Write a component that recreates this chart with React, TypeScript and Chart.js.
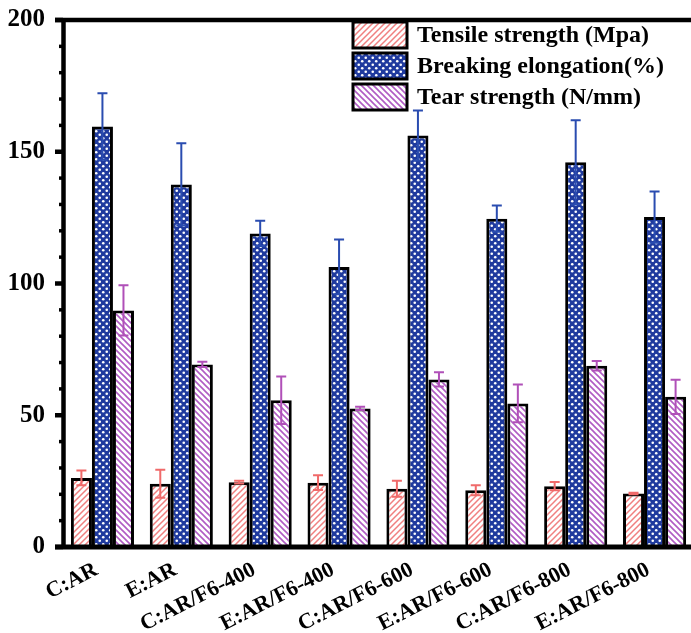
import { useEffect, useRef } from "react";
import { Chart, registerables } from "chart.js";
Chart.register(...registerables);

const categories = ["C:AR", "E:AR", "C:AR/F6-400", "E:AR/F6-400", "C:AR/F6-600", "E:AR/F6-600", "C:AR/F6-800", "E:AR/F6-800"];
const tensile = [26.2, 24, 24.6, 24.4, 22.1, 21.5, 23.1, 20.3];
const tensileErr = [2.8, 5.3, 0.5, 2.8, 3, 1.9, 1.6, 0.3];
const elongation = [159.6, 137.6, 119, 106.3, 156.2, 124.6, 146, 125.2];
const elongationErr = [12.6, 15.6, 4.8, 10.4, 9.5, 5, 16, 9.7];
const tear = [89.8, 69.3, 55.7, 52.6, 63.6, 54.5, 68.8, 57];
const tearErr = [9.5, 1, 9, 0.6, 2.7, 7.2, 1.8, 6.5];
const seriesNames = ["Tensile strength (Mpa)", "Breaking elongation(%)", "Tear strength (N/mm)"];
const yMin = 0;
const yMax = 200;
const yStep = 50;
const yMinorStep = 10;

const FONT = "'Liberation Serif', 'Times New Roman', serif";

function makePattern(kind: string): CanvasPattern | string {
  const c = document.createElement("canvas");
  const s = kind === "dots" ? 7 : 6;
  c.width = s;
  c.height = s;
  const g = c.getContext("2d");
  if (!g) return "#fff";
  if (kind === "slash") {
    g.fillStyle = "#ffffff";
    g.fillRect(0, 0, s, s);
    g.strokeStyle = "#f08080";
    g.lineWidth = 1.5;
    g.beginPath();
    g.moveTo(-1, s + 1); g.lineTo(s + 1, -1);
    g.moveTo(-1, 1); g.lineTo(1, -1);
    g.moveTo(s - 1, s + 1); g.lineTo(s + 1, s - 1);
    g.stroke();
  } else if (kind === "back") {
    g.fillStyle = "#ffffff";
    g.fillRect(0, 0, s, s);
    g.strokeStyle = "#b05cc4";
    g.lineWidth = 1.6;
    g.beginPath();
    g.moveTo(-1, -1); g.lineTo(s + 1, s + 1);
    g.moveTo(s - 1, -1); g.lineTo(s + 1, 1);
    g.moveTo(-1, s - 1); g.lineTo(1, s + 1);
    g.stroke();
  } else {
    g.fillStyle = "#1f3a9e";
    g.fillRect(0, 0, s, s);
    g.fillStyle = "#ffffff";
    const pts = [[1.75, 1.75], [5.25, 5.25]];
    for (const [x, y] of pts) {
      g.beginPath();
      g.arc(x, y, 1.3, 0, Math.PI * 2);
      g.fill();
    }
  }
  return g.createPattern(c, "repeat") || "#fff";
}

export default function App() {
  const ref = useRef<HTMLCanvasElement | null>(null);
  useEffect(() => {
    const canvas = ref.current;
    if (!canvas) return;
    const pats = [makePattern("slash"), makePattern("dots"), makePattern("back")];
    const errs = [tensileErr, elongationErr, tearErr];
    const errColors = ["#f06a6a", "#2a4cb0", "#b050b8"];

    const errorBars = {
      id: "errorBars",
      afterDatasetsDraw(chart: any) {
        const ctx = chart.ctx;
        const ys = chart.scales.y;
        chart.data.datasets.forEach((ds: any, i: number) => {
          const meta = chart.getDatasetMeta(i);
          meta.data.forEach((bar: any, j: number) => {
            const v = ds.data[j];
            const e = errs[i][j];
            const yt = ys.getPixelForValue(v + e);
            const yb = ys.getPixelForValue(v - e);
            const x = bar.x;
            ctx.save();
            ctx.strokeStyle = errColors[i];
            ctx.lineWidth = 2;
            ctx.beginPath();
            ctx.moveTo(x, yt); ctx.lineTo(x, yb);
            ctx.moveTo(x - 5, yt); ctx.lineTo(x + 5, yt);
            ctx.moveTo(x - 5, yb); ctx.lineTo(x + 5, yb);
            ctx.stroke();
            ctx.restore();
          });
        });
      },
    };

    const axesPlugin = {
      id: "axesLines",
      afterDraw(chart: any) {
        const ctx = chart.ctx;
        const ys = chart.scales.y;
        const a = chart.chartArea;
        const W = chart.width;
        ctx.save();
        ctx.strokeStyle = "#000";
        ctx.lineCap = "butt";
        const yTop = ys.getPixelForValue(yMax);
        const yBot = ys.getPixelForValue(yMin);
        ctx.lineWidth = 3.5;
        for (let v = yMin + yMinorStep; v < yMax; v += yMinorStep) {
          if (v % yStep === 0) continue;
          const y = ys.getPixelForValue(v);
          ctx.beginPath();
          ctx.moveTo(a.left - 4, y); ctx.lineTo(a.left, y);
          ctx.stroke();
        }
        ctx.lineWidth = 4.5;
        for (let v = yMin; v <= yMax; v += yStep) {
          const y = ys.getPixelForValue(v);
          ctx.beginPath();
          ctx.moveTo(a.left - 8, y); ctx.lineTo(a.left, y);
          ctx.stroke();
        }
        ctx.beginPath();
        ctx.moveTo(a.left - 8, yTop); ctx.lineTo(W, yTop);
        ctx.stroke();
        ctx.lineWidth = 5;
        ctx.beginPath();
        ctx.moveTo(a.left - 8, yBot); ctx.lineTo(W, yBot);
        ctx.stroke();
        ctx.lineWidth = 4.5;
        ctx.beginPath();
        ctx.moveTo(a.left + 0.5, yTop - 2); ctx.lineTo(a.left + 0.5, yBot + 2);
        ctx.stroke();

        // legend
        const bx = 353, bw = 54, bh = 26;
        const rows = [22, 53, 84];
        ctx.font = `bold 24px ${FONT}`;
        ctx.textBaseline = "middle";
        ctx.textAlign = "left";
        rows.forEach((ry, i) => {
          ctx.fillStyle = pats[i] as any;
          ctx.fillRect(bx, ry, bw, bh);
          ctx.lineWidth = 3;
          ctx.strokeStyle = "#000";
          ctx.strokeRect(bx, ry, bw, bh);
          ctx.fillStyle = "#000";
          ctx.fillText(seriesNames[i], 417, ry + bh / 2 + 1);
        });
        ctx.restore();
      },
    };

    const chart = new Chart(canvas, {
      type: "bar",
      data: {
        labels: categories,
        datasets: [
          { label: seriesNames[0], data: tensile, backgroundColor: pats[0] as any, borderColor: "#000", borderWidth: 3 },
          { label: seriesNames[1], data: elongation, backgroundColor: pats[1] as any, borderColor: "#000", borderWidth: 3 },
          { label: seriesNames[2], data: tear, backgroundColor: pats[2] as any, borderColor: "#000", borderWidth: 3 },
        ],
      },
      options: {
        animation: false,
        responsive: false,
        layout: { padding: { top: 20, left: 0, right: 0, bottom: 0 } },
        datasets: { bar: { categoryPercentage: 0.8, barPercentage: 1.0 } },
        plugins: { legend: { display: false }, tooltip: { enabled: false } },
        scales: {
          x: {
            grid: { display: false, drawTicks: false },
            border: { display: false },
            ticks: {
              autoSkip: false,
              maxRotation: 27,
              minRotation: 27,
              padding: 10,
              labelOffset: -6,
              color: "#000",
              font: { family: FONT, size: 22, weight: "bold" },
            },
            afterFit(scale: any) {
              scale.height = 86;
              scale.paddingLeft = 0;
              scale.paddingRight = 0;
            },
          },
          y: {
            min: yMin,
            max: yMax,
            grid: { display: false, drawTicks: false },
            border: { display: false },
            ticks: {
              stepSize: yStep,
              padding: 18,
              color: "#000",
              font: { family: FONT, size: 25, weight: "bold" },
            },
            afterFit(scale: any) {
              scale.width = 63;
              scale.paddingTop = 0;
              scale.paddingBottom = 0;
            },
          },
        },
      },
      plugins: [errorBars, axesPlugin],
    });
    return () => chart.destroy();
  }, []);
  return (
    <div style={{ position: "absolute", left: 0, top: 0, width: 691, height: 633, overflow: "hidden", background: "#fff" }}>
      <canvas ref={ref} width={694} height={633} style={{ display: "block" }} />
    </div>
  );
}
